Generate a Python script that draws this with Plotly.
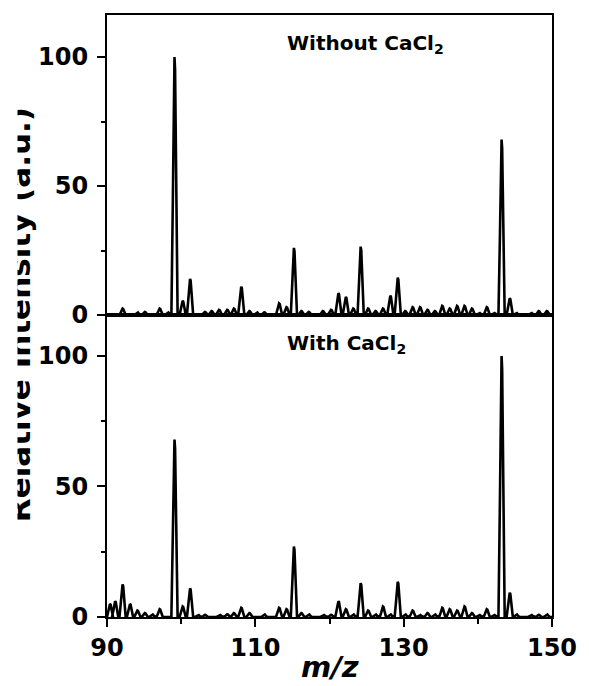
import plotly.graph_objects as go

# ---- data: peak positions (m/z) and relative intensities ----
without_mz = [92.1, 94.1, 95.1, 97.1, 98.2, 99.1, 100.2, 101.2, 103.2, 104.1, 105.1, 106.2,
              107.1, 108.1, 109.2, 110.2, 111.2, 113.2, 114.2, 115.2, 116.2, 117.2, 119.1,
              120.2, 121.2, 122.2, 123.2, 124.2, 125.2, 126.2, 127.2, 128.2, 129.2, 130.2,
              131.2, 132.2, 133.2, 134.2, 135.2, 136.2, 137.2, 138.2, 139.2, 140.2, 141.2,
              142.2, 143.2, 144.3, 145.2, 147.2, 148.2, 149.3]
without_int = [2.5, 1.0, 1.2, 2.5, 1.0, 100, 5.5, 14, 1.2, 1.5, 2.0, 2.0,
               2.5, 11, 1.5, 1.0, 1.0, 4.5, 3.0, 26, 1.5, 1.2, 1.5,
               2.0, 8.5, 7.0, 2.5, 26.5, 2.5, 1.5, 2.5, 7.5, 14.5, 1.5,
               3.0, 3.0, 2.0, 1.5, 3.5, 2.5, 3.5, 3.5, 2.5, 0.8, 3.0,
               0.8, 68, 6.5, 0.8, 0.8, 1.5, 1.5]

with_mz = [90.4, 91.1, 92.1, 93.1, 94.1, 95.1, 96.1, 97.1, 99.1, 100.2, 101.2, 102.3, 103.2,
           105.2, 106.2, 107.1, 108.1, 109.2, 111.2, 113.2, 114.2, 115.2, 116.2, 117.2, 119.2,
           120.2, 121.2, 122.2, 123.2, 124.2, 125.2, 126.2, 127.2, 128.2, 129.2, 130.2, 131.2,
           132.2, 133.2, 134.2, 135.2, 136.2, 137.2, 138.2, 139.2, 140.2, 141.2, 142.2, 143.2,
           144.3, 145.2, 147.2, 148.2, 149.3]
with_int = [5.0, 6.0, 12.5, 5.0, 2.5, 1.5, 1.0, 3.0, 68, 4.0, 11, 0.8, 0.8,
            0.8, 1.0, 1.5, 3.5, 1.5, 1.0, 3.5, 3.0, 27, 1.5, 1.0, 0.8,
            0.8, 6.0, 3.0, 1.0, 13, 2.5, 1.0, 4.0, 1.0, 13.5, 1.0, 2.5,
            0.8, 1.5, 1.0, 3.5, 3.0, 2.5, 4.0, 1.5, 0.8, 3.0, 0.8, 100,
            9.3, 1.0, 0.8, 0.8, 1.0]

x_ticks = [90, 110, 130, 150]
y_ticks = [0, 50, 100]

# peak line-shape template (offsets in m/z, fraction of height)
SHAPE_DX = [-0.42, -0.22, -0.08, 0.0, 0.08, 0.22, 0.42]
SHAPE_FY = [0.0, 0.45, 0.95, 1.0, 0.95, 0.45, 0.0]


def spectrum(mz, inten):
    xs, ys = [90.0], [0.0]
    for m, h in zip(mz, inten):
        for dx, fy in zip(SHAPE_DX, SHAPE_FY):
            xs.append(m + dx)
            ys.append(h * fy)
    xs.append(150.0)
    ys.append(0.0)
    return xs, ys


fig = go.Figure()
x1, y1 = spectrum(without_mz, without_int)
x2, y2 = spectrum(with_mz, with_int)
fig.add_trace(go.Scatter(x=x1, y=y1, mode="lines", line=dict(color="black", width=2.6),
                         xaxis="x2", yaxis="y2", showlegend=False, hoverinfo="skip"))
fig.add_trace(go.Scatter(x=x2, y=y2, mode="lines", line=dict(color="black", width=2.6),
                         xaxis="x", yaxis="y", showlegend=False, hoverinfo="skip"))

tickfont = dict(family="DejaVu Sans", size=24, color="black", weight="bold")
W, H = 589, 686
ML, MR, MT, MB = 107, 29, 15, 69
split = 302 / 602

fig.update_layout(
    width=W, height=H,
    margin=dict(l=ML, r=MR, t=MT, b=MB),
    paper_bgcolor="white", plot_bgcolor="white",
    xaxis=dict(anchor="y", range=[90, 150], tickvals=x_ticks, ticks="outside", ticklen=8,
               tickwidth=2, tickcolor="black", showline=True, linewidth=2, linecolor="black",
               mirror=True, showgrid=False, zeroline=False, tickfont=tickfont,
               ticklabelstandoff=0,
               minor=dict(tickvals=[100, 120, 140], ticks="outside", ticklen=5, tickwidth=2,
                          tickcolor="black", showgrid=False)),
    xaxis2=dict(anchor="y2", matches="x", range=[90, 150], showticklabels=False, ticks="",
                showline=True, linewidth=2, linecolor="black", mirror=True,
                showgrid=False, zeroline=False),
    yaxis=dict(domain=[0, split], range=[0, 115.7], tickvals=y_ticks, ticks="outside",
               ticklen=8, tickwidth=2, tickcolor="black", showline=True, linewidth=2,
               linecolor="black", mirror=True, showgrid=False, zeroline=False,
               tickfont=tickfont, ticklabelstandoff=4,
               minor=dict(tickvals=[25, 75], ticks="outside", ticklen=4, tickwidth=2,
                          tickcolor="black", showgrid=False)),
    yaxis2=dict(domain=[split, 1], range=[0, 116.3], tickvals=y_ticks, ticks="outside",
                ticklen=8, tickwidth=2, tickcolor="black", showline=True, linewidth=2,
                linecolor="black", mirror=True, showgrid=False, zeroline=False,
                tickfont=tickfont, ticklabelstandoff=4,
                minor=dict(tickvals=[25, 75], ticks="outside", ticklen=4, tickwidth=2,
                           tickcolor="black", showgrid=False)),
)

pw = W - ML - MR
ph = H - MT - MB


def px_x(px):
    return (px - ML) / pw


def px_y(py):
    return (H - MB - py) / ph


ann_font = dict(family="DejaVu Sans", size=20, color="black", weight="bold")
fig.add_annotation(text="Without CaCl<sub>2</sub>", xref="paper", yref="paper",
                   x=px_x(288), y=px_y(44), xanchor="left", yanchor="middle",
                   showarrow=False, font=ann_font)
fig.add_annotation(text="With CaCl<sub>2</sub>", xref="paper", yref="paper",
                   x=px_x(288), y=px_y(344), xanchor="left", yanchor="middle",
                   showarrow=False, font=ann_font)
fig.add_annotation(text="<i>m/z</i>", xref="paper", yref="paper",
                   x=0.5, y=px_y(667), xanchor="center", yanchor="middle",
                   showarrow=False,
                   font=dict(family="DejaVu Sans", size=29, color="black", weight="bold"))
# y-axis title, partially cut at the left edge as in the reference
fig.add_annotation(text="Relative Intensity (a.u.)", xref="paper", yref="paper",
                   x=px_x(38), y=px_y(315), xanchor="right", yanchor="middle",
                   textangle=-90, showarrow=False,
                   font=dict(family="DejaVu Sans", size=31, color="black", weight="bold"))
fig.add_annotation(text=" ", xref="paper", yref="paper",
                   x=px_x(0), y=px_y(315), xanchor="left", yanchor="middle",
                   width=14, height=600, borderpad=0, bgcolor="white", showarrow=False)

fig.write_html("out.html")
